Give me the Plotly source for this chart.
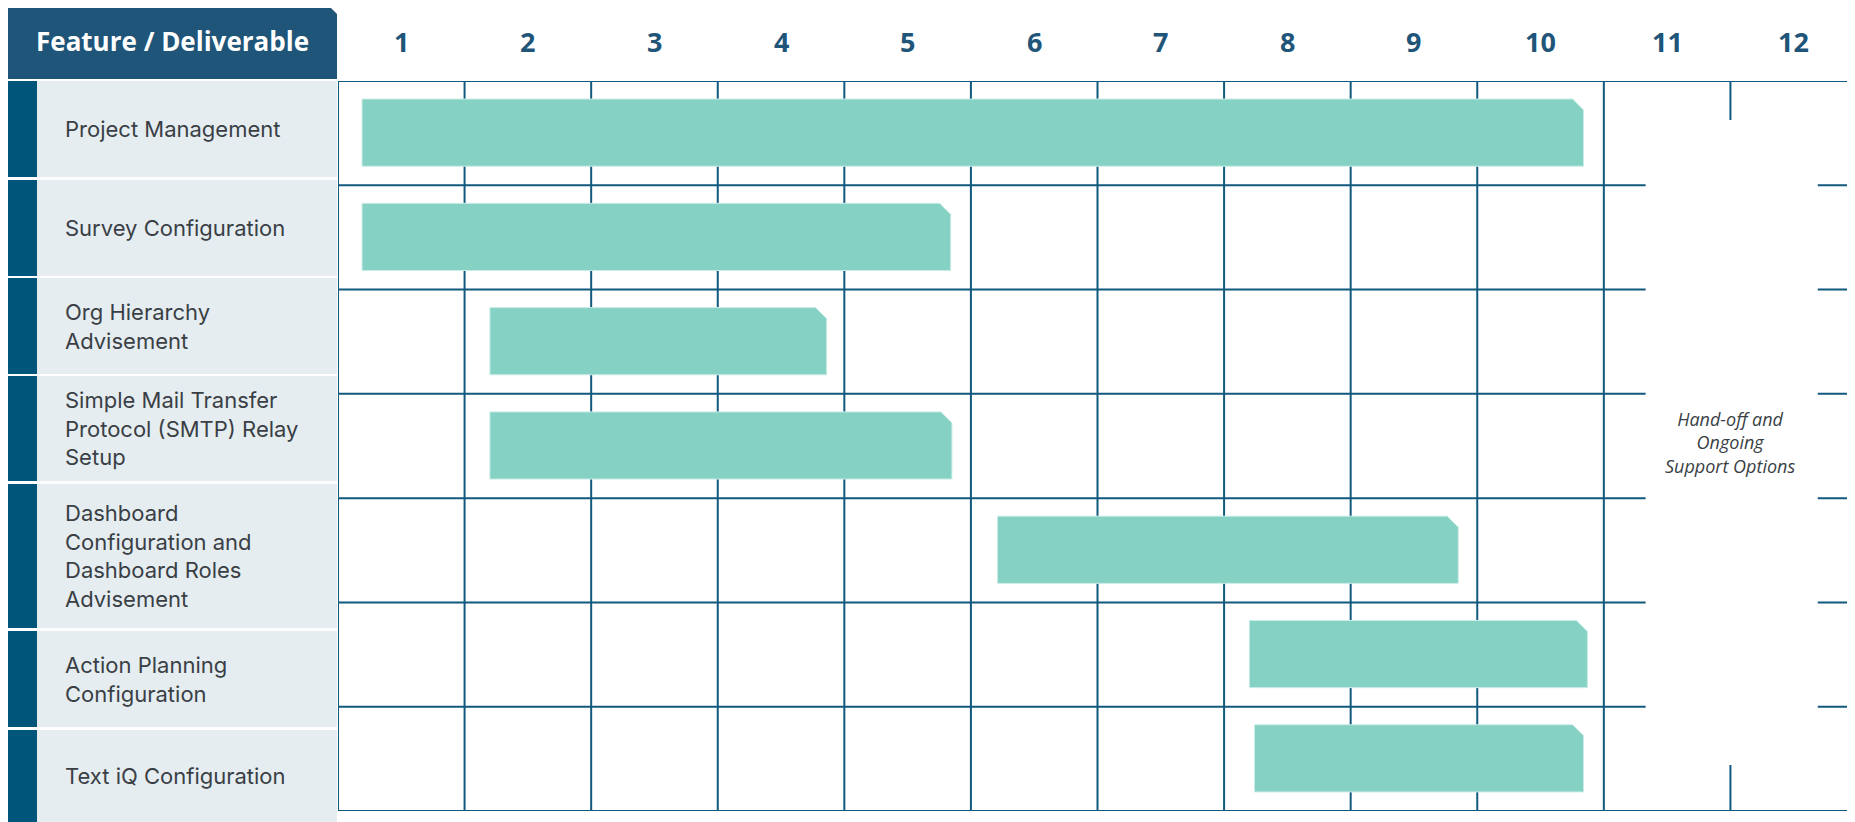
import plotly.graph_objects as go

# ---------------- data ----------------
week_labels = ["1", "2", "3", "4", "5", "6", "7", "8", "9", "10", "11", "12"]
tasks = [
    "Project Management",
    "Survey Configuration",
    "Org Hierarchy<br>Advisement",
    "Simple Mail Transfer<br>Protocol (SMTP) Relay<br>Setup",
    "Dashboard<br>Configuration and<br>Dashboard Roles<br>Advisement",
    "Action Planning<br>Configuration",
    "Text iQ Configuration",
]
start_week = [0.19, 0.19, 1.20, 1.20, 5.21, 7.20, 7.24]
end_week = [9.84, 4.84, 3.86, 4.85, 8.85, 9.87, 9.84]
header_text = "Feature / Deliverable"
support_text = "Hand-off and<br>Ongoing<br>Support Options"

# ---------------- layout constants (window pixels) ----------------
W, H = 1855, 822
OFF = 8  # page body margin
GRID_LEFT, GRID_RIGHT, GRID_TOP, GRID_BOTTOM = 338, 1857, 81, 811
N_COLS = len(week_labels)
N_ROWS = len(tasks)
col_px = (GRID_RIGHT - GRID_LEFT) / N_COLS
row_px = (GRID_BOTTOM - GRID_TOP) / N_ROWS

LINE = "#11597d"
BAR = "#85d1c4"
HEADER = "#1f5579"
STRIPE = "#00557a"
LABEL_BG = "#e5edf1"
TEXT = "#3a3f45"


def px(x):
    return (x - OFF) / W


def py(y):
    return 1 - (y - OFF) / H


fig = go.Figure()

# bars with chamfered top-right corner
ch_x = 11 / col_px
ch_y = 11 / row_px
bar_half = 0.322
for i, (s, e) in enumerate(zip(start_week, end_week)):
    c = i + 0.495
    top, bot = c - bar_half, c + bar_half
    xs = [s, e - ch_x, e, e, s, s]
    ys = [top, top, top + ch_y, bot, bot, top]
    fig.add_trace(go.Scatter(
        x=xs, y=ys, mode="lines", fill="toself", fillcolor=BAR,
        line=dict(color="#c9ece5", width=1), hoverinfo="skip", showlegend=False,
    ))

shapes = []
# grid lines (below bars)
for k in range(N_COLS):
    shapes.append(dict(type="line", xref="x", yref="y", x0=k, x1=k, y0=0, y1=N_ROWS,
                       line=dict(color=LINE, width=2), layer="below"))
for r in range(N_ROWS + 1):
    shapes.append(dict(type="line", xref="x", yref="y", x0=0, x1=N_COLS, y0=r, y1=r,
                       line=dict(color=LINE, width=2), layer="below"))
# white panel for the support block in weeks 11-12
shapes.append(dict(type="rect", xref="x", yref="y", x0=10.33, x1=11.69,
                   y0=(120 - GRID_TOP) / row_px, y1=(765 - GRID_TOP) / row_px,
                   fillcolor="white", line=dict(width=0), layer="below"))

# header box with chamfered top-right corner
hx0, hx1, hy0, hy1, hc = 8, 337, 2, 79, 12
shapes.append(dict(
    type="path", xref="paper", yref="paper",
    path=(f"M {px(hx0)},{py(hy0)} L {px(hx1 - hc)},{py(hy0)} L {px(hx1)},{py(hy0 + hc)} "
          f"L {px(hx1)},{py(hy1)} L {px(hx0)},{py(hy1)} Z"),
    fillcolor=HEADER, line=dict(width=0)))

# label rows
label_rows = [(81, 177), (180, 276), (278, 374), (376, 481), (484, 628), (631, 727), (730, 830)]
annotations = []
for (t, b), name in zip(label_rows, tasks):
    shapes.append(dict(type="rect", xref="paper", yref="paper", x0=px(8), x1=px(37),
                       y0=py(b), y1=py(t), fillcolor=STRIPE, line=dict(width=0)))
    shapes.append(dict(type="rect", xref="paper", yref="paper", x0=px(37), x1=px(337),
                       y0=py(b), y1=py(t), fillcolor=LABEL_BG, line=dict(width=0)))
    annotations.append(dict(xref="paper", yref="paper", x=px(63),
                            y=py((t + min(b, 822)) / 2),
                            text=name, showarrow=False, xanchor="left", yanchor="middle",
                            align="left", font=dict(family="Inter", size=22, color=TEXT)))

annotations.append(dict(xref="paper", yref="paper", x=px((hx0 + hx1) / 2), y=py(41),
                        text=f"<b>{header_text}</b>", showarrow=False,
                        xanchor="center", yanchor="middle",
                        font=dict(family="Open Sans", size=26, color="white")))

for k, lab in enumerate(week_labels):
    annotations.append(dict(xref="x", yref="paper", x=k + 0.5, y=py(42),
                            text=f"<b>{lab}</b>", showarrow=False,
                            xanchor="center", yanchor="middle",
                            font=dict(family="Open Sans", size=27, color=HEADER)))

annotations.append(dict(xref="x", yref="paper", x=11.0, y=py(443),
                        text=f"<i>{support_text}</i>", showarrow=False,
                        xanchor="center", yanchor="middle", align="center",
                        font=dict(family="Open Sans", size=18, color=TEXT)))

fig.update_layout(
    width=W, height=H,
    margin=dict(l=0, r=0, t=0, b=0),
    paper_bgcolor="white", plot_bgcolor="rgba(0,0,0,0)",
    shapes=shapes, annotations=annotations,
    xaxis=dict(domain=[px(GRID_LEFT), px(GRID_RIGHT)], range=[0, N_COLS], showgrid=False,
               zeroline=False, showticklabels=False, fixedrange=True),
    yaxis=dict(domain=[py(GRID_BOTTOM), py(GRID_TOP)], range=[N_ROWS, 0], showgrid=False,
               zeroline=False, showticklabels=False, fixedrange=True),
    showlegend=False,
)

fig.write_html("out.html", config={"displayModeBar": False})
